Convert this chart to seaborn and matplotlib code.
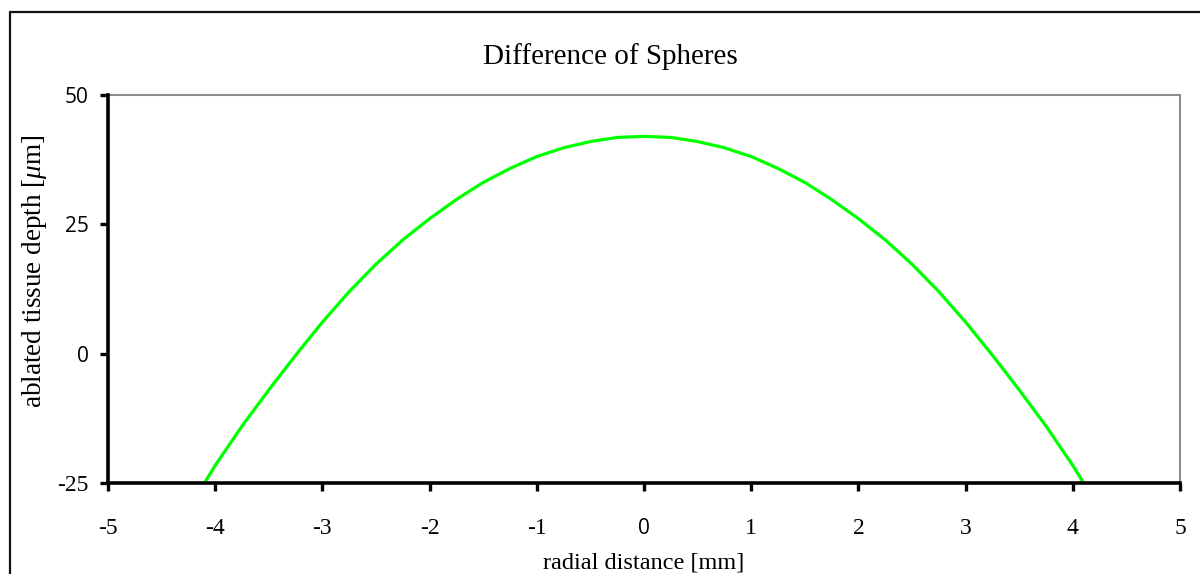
import matplotlib
matplotlib.use("Agg")
import matplotlib.pyplot as plt
from matplotlib.lines import Line2D
import seaborn as sns
import pandas as pd

# Data
radial_mm = [-4.1, -4.0, -3.75, -3.5, -3.25, -3.0, -2.75, -2.5, -2.25, -2.0, -1.75,
             -1.5, -1.25, -1.0, -0.75, -0.5, -0.25, 0.0, 0.25, 0.5, 0.75, 1.0,
             1.25, 1.5, 1.75, 2.0, 2.25, 2.5, 2.75, 3.0, 3.25, 3.5, 3.75, 4.0, 4.1]
depth_um = [-25.0, -21.6, -14.0, -7.0, -0.3, 6.1, 12.0, 17.3, 22.0, 26.1, 29.8,
            33.1, 35.8, 38.1, 39.8, 41.0, 41.8, 42.0, 41.8, 41.0, 39.8, 38.1,
            35.8, 33.1, 29.8, 26.1, 22.0, 17.3, 12.0, 6.1, -0.3, -7.0, -14.0, -21.6, -25.0]
x_ticks = [-5, -4, -3, -2, -1, 0, 1, 2, 3, 4, 5]
y_ticks = [-25, 0, 25, 50]
title = "Difference of Spheres"
x_label = "radial distance [mm]"
y_label = "ablated tissue depth [$\\mu$m]"

sns.set_style("white")
serif = ["Liberation Serif", "DejaVu Serif"]
plt.rcParams["font.family"] = serif
plt.rcParams["mathtext.fontset"] = "custom"
plt.rcParams["mathtext.it"] = "Liberation Serif:italic"
plt.rcParams["mathtext.rm"] = "Liberation Serif"
plt.rcParams["text.color"] = "black"
plt.rcParams["axes.labelcolor"] = "black"
plt.rcParams["xtick.color"] = "black"
plt.rcParams["ytick.color"] = "black"

fig = plt.figure(figsize=(12, 5.74), dpi=100)
ax = fig.add_axes([108 / 1200, 1 - 483 / 574, (1180 - 108) / 1200, (483 - 95) / 574])

df = pd.DataFrame({"r": radial_mm, "d": depth_um})
sns.lineplot(data=df, x="r", y="d", ax=ax, color="#00FF00", linewidth=2.3, sort=False)

ax.set_xlim(-5, 5)
ax.set_ylim(-25, 50)
ax.set_xticks(x_ticks)
ax.set_yticks(y_ticks)
ax.set_xticklabels([str(t) for t in x_ticks])
ax.set_yticklabels([str(t) for t in y_ticks])

for s in ["left", "bottom"]:
    ax.spines[s].set_color("black")
    ax.spines[s].set_linewidth(2.6)
for s in ["top", "right"]:
    ax.spines[s].set_color("#8c8c8c")
    ax.spines[s].set_linewidth(1.5)
ax.spines["left"].set_zorder(3)
ax.spines["bottom"].set_zorder(3)

ax.tick_params(axis="both", which="major", direction="out", length=6, width=2.4,
               color="black", labelcolor="black", labelsize=17,
               bottom=True, left=True, top=False, right=False)
ax.tick_params(axis="x", pad=19)
ax.tick_params(axis="y", pad=8)

# sans-looking labels in the reference
for lab in ax.get_yticklabels():
    if lab.get_text() in ("50", "25", "0"):
        lab.set_fontfamily(["Open Sans", "DejaVu Sans"])
        lab.set_fontsize(15)
for lab in ax.get_xticklabels():
    if lab.get_text() == "0":
        lab.set_fontfamily(["Open Sans", "DejaVu Sans"])
        lab.set_fontsize(15)

ax.set_xlabel(x_label, fontsize=17.5, labelpad=10, color="black")
ax.set_ylabel(y_label, fontsize=19.5, color="black")
ax.yaxis.label.set_verticalalignment("center")
ax.yaxis.set_label_coords((35 - 108) / 1072, (483 - 271) / 388)
ax.grid(False)

fig.text(610 / 1200, 1 - 57 / 574, title, ha="center", va="center", fontsize=21,
         color="black")

# outer chart frame (cropped at right/bottom)
fig.add_artist(Line2D([10 / 1200, 10 / 1200], [0, 1 - 12 / 574], color="#111111",
                      linewidth=1.6, transform=fig.transFigure))
fig.add_artist(Line2D([10 / 1200, 1], [1 - 12 / 574, 1 - 12 / 574], color="#111111",
                      linewidth=1.6, transform=fig.transFigure))

fig.savefig("out.png", dpi=100)
